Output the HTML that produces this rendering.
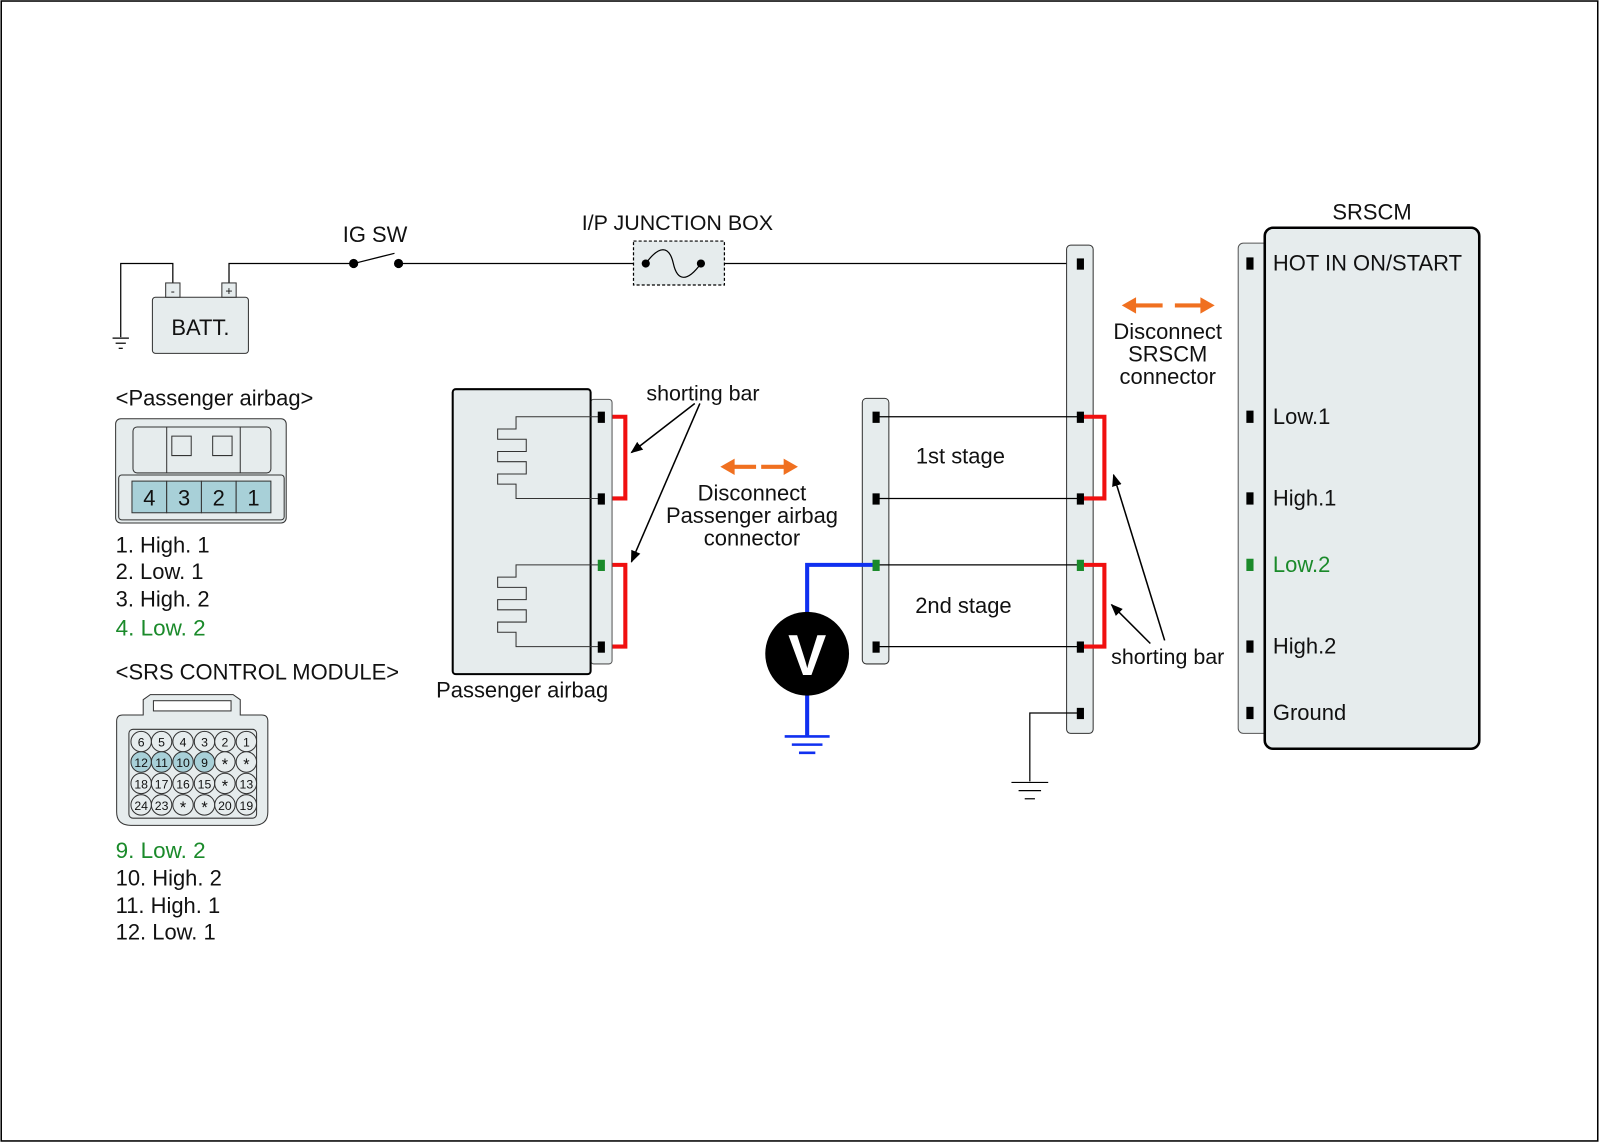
<!DOCTYPE html>
<html><head><meta charset="utf-8"><style>
html,body{margin:0;padding:0;background:#fff}
svg{display:block}
text{font-family:"Liberation Sans",Arial,sans-serif;font-size:21.5px;fill:#111}
</style></head><body>
<svg width="1600" height="1143" viewBox="0 0 1566 1119" xmlns="http://www.w3.org/2000/svg">
<defs>
<marker id="ah" viewBox="0 0 10 10" refX="9" refY="5" markerWidth="8" markerHeight="8" orient="auto"><path d="M0,1 L10,5 L0,9 z" fill="#000"/></marker>
</defs>
<rect x="1" y="1" width="1563" height="1116" fill="#fff" stroke="#000" stroke-width="1.5"/>

<!-- battery -->
<g stroke="#000" stroke-width="1.2" fill="none">
<polyline points="118,330 118,258 169,258 169,277"/>
<line x1="110" y1="331" x2="126" y2="331"/><line x1="113" y1="336" x2="123" y2="336"/><line x1="116" y1="341" x2="120" y2="341"/>
<polyline points="224,277 224,258 240,258 346,258"/>
<line x1="346" y1="258" x2="386" y2="248"/>
<line x1="390" y1="258" x2="620" y2="258"/>
<line x1="709" y1="258" x2="1057" y2="258"/>
</g>
<rect x="149" y="291" width="94" height="55" rx="3" fill="#e6eced" stroke="#333"/>
<rect x="162" y="277" width="14" height="14" fill="#e6eced" stroke="#333"/>
<rect x="217" y="277" width="14" height="14" fill="#e6eced" stroke="#333"/>
<text x="169" y="289" text-anchor="middle" style="font-size:12px">-</text>
<text x="224" y="289" text-anchor="middle" style="font-size:12px">+</text>
<text x="196" y="328" text-anchor="middle">BATT.</text>
<circle cx="346" cy="258" r="4.5" fill="#000"/><circle cx="390" cy="258" r="4.5" fill="#000"/>
<text x="367" y="237" text-anchor="middle">IG SW</text>
<text x="663" y="225" text-anchor="middle" style="font-size:21px">I/P JUNCTION BOX</text>
<rect x="620" y="236" width="89" height="43" fill="#e6eced" stroke="#000" stroke-width="1.2" stroke-dasharray="3,2"/>
<circle cx="632" cy="258" r="4" fill="#000"/><circle cx="686" cy="258" r="4" fill="#000"/>
<path d="M632,258 C645,240 655,240 659,258 C663,276 673,276 686,258" fill="none" stroke="#000" stroke-width="1.2"/>

<!-- middle connector bar -->
<rect x="1044" y="240" width="26" height="478" rx="4" fill="#e6eced" stroke="#333"/>
<rect x="844" y="390" width="26" height="260" rx="4" fill="#e6eced" stroke="#333"/>
<g stroke="#000" stroke-width="1.2">
<line x1="857" y1="408" x2="1057" y2="408"/><line x1="857" y1="488" x2="1057" y2="488"/>
<line x1="857" y1="553" x2="1057" y2="553"/><line x1="857" y1="633" x2="1057" y2="633"/>
<polyline points="1057,698 1008,698 1008,765" fill="none"/>
<line x1="990" y1="766" x2="1026" y2="766"/><line x1="997" y1="774" x2="1019" y2="774"/><line x1="1003" y1="782" x2="1013" y2="782"/>
</g>
<g fill="none" stroke="#f01010" stroke-width="4">
<polyline points="1057,408 1081,408 1081,488 1057,488"/>
<polyline points="1057,553 1081,553 1081,633 1057,633"/>
<polyline points="589,408 612,408 612,488 589,488"/>
<polyline points="589,553 612,553 612,633 589,633"/>
</g>
<g fill="#000">
<rect x="1054" y="253" width="7" height="11"/><rect x="1054" y="403" width="7" height="11"/><rect x="1054" y="483" width="7" height="11"/><rect x="1054" y="628" width="7" height="11"/><rect x="1054" y="693" width="7" height="11"/>
<rect x="854" y="403" width="7" height="11"/><rect x="854" y="483" width="7" height="11"/><rect x="854" y="628" width="7" height="11"/>
</g>
<rect x="1054" y="548" width="7" height="11" fill="#1a8a2a"/>
<!-- voltmeter -->
<g stroke="#1030f0" stroke-width="4" fill="none">
<polyline points="857,553 790,553 790,600"/>
<line x1="790" y1="680" x2="790" y2="720"/>
</g>
<g stroke="#1030f0" stroke-width="2.5">
<line x1="768" y1="721" x2="812" y2="721"/><line x1="775" y1="729" x2="805" y2="729"/><line x1="782" y1="737" x2="798" y2="737"/>
</g>
<rect x="854" y="548" width="7" height="11" fill="#1a8a2a"/>
<circle cx="790" cy="640" r="41" fill="#000"/>
<text x="790" y="661" text-anchor="middle" style="font-size:56px;font-weight:bold;fill:#fff">V</text>
<text x="940" y="454" text-anchor="middle">1st stage</text>
<text x="943" y="600" text-anchor="middle">2nd stage</text>
<text x="1143" y="650" text-anchor="middle" style="font-size:21px">shorting bar</text>
<g stroke="#000" stroke-width="1.5" marker-end="url(#ah)">
<line x1="1140" y1="627" x2="1090" y2="465"/>
<line x1="1126" y1="630" x2="1088" y2="592"/>
<line x1="680" y1="395" x2="618" y2="443"/>
<line x1="685" y1="395" x2="618" y2="550"/>
</g>

<!-- SRSCM -->
<text x="1343" y="215" text-anchor="middle">SRSCM</text>
<rect x="1212" y="238" width="30" height="480" rx="5" fill="#e6eced" stroke="#555"/>
<rect x="1238" y="223" width="210" height="510" rx="8" fill="#e6eced" stroke="#000" stroke-width="2.5"/>
<g fill="#000">
<rect x="1220" y="252" width="7" height="12"/><rect x="1220" y="402" width="7" height="12"/><rect x="1220" y="482" width="7" height="12"/><rect x="1220" y="627" width="7" height="12"/><rect x="1220" y="692" width="7" height="12"/>
</g>
<rect x="1220" y="547" width="7" height="12" fill="#1a8a2a"/>
<text x="1246" y="265">HOT IN ON/START</text>
<text x="1246" y="415">Low.1</text>
<text x="1246" y="495">High.1</text>
<text x="1246" y="560" style="fill:#1a8a2a">Low.2</text>
<text x="1246" y="640">High.2</text>
<text x="1246" y="705">Ground</text>
<g stroke="#f07020" stroke-width="4" fill="#f07020">
<line x1="1108" y1="299" x2="1138" y2="299"/><path d="M1098,299 L1112,291 L1112,307z" stroke="none"/>
<line x1="1150" y1="299" x2="1178" y2="299"/><path d="M1189,299 L1175,291 L1175,307z" stroke="none"/>
<line x1="715" y1="457" x2="740" y2="457"/><path d="M705,457 L719,449 L719,465z" stroke="none"/>
<line x1="745" y1="457" x2="770" y2="457"/><path d="M781,457 L767,449 L767,465z" stroke="none"/>
</g>
<text x="1143" y="332" text-anchor="middle">Disconnect</text>
<text x="1143" y="354" text-anchor="middle">SRSCM</text>
<text x="1143" y="376" text-anchor="middle">connector</text>
<text x="736" y="490" text-anchor="middle">Disconnect</text>
<text x="736" y="512" text-anchor="middle">Passenger airbag</text>
<text x="736" y="534" text-anchor="middle">connector</text>

<!-- passenger airbag -->
<rect x="578" y="391" width="21" height="259" rx="3" fill="#e6eced" stroke="#555"/>
<rect x="443" y="381" width="135" height="279" rx="3" fill="#e6eced" stroke="#000" stroke-width="2"/>
<g fill="none" stroke="#333" stroke-width="1">
<polyline points="589,408 505,408 505,420 487,420 487,430 515,430 515,442 487,442 487,452 515,452 515,464 487,464 487,474 505,474 505,488 589,488"/>
<polyline points="589,553 505,553 505,565 487,565 487,575 515,575 515,587 487,587 487,597 515,597 515,609 487,609 487,619 505,619 505,633 589,633"/>
</g>
<g fill="#000"><rect x="585" y="403" width="7" height="11"/><rect x="585" y="483" width="7" height="11"/><rect x="585" y="628" width="7" height="11"/></g>
<rect x="585" y="548" width="7" height="11" fill="#1a8a2a"/>
<text x="688" y="392" text-anchor="middle" style="font-size:21px">shorting bar</text>
<text x="511" y="683" text-anchor="middle">Passenger airbag</text>

<!-- left legends -->
<text x="113" y="397">&lt;Passenger airbag&gt;</text>
<rect x="113" y="410" width="167" height="102" rx="5" fill="#e6eced" stroke="#333"/>
<g fill="none" stroke="#333" stroke-width="1">
<rect x="130" y="418" width="135" height="45" rx="4"/>
<line x1="163" y1="418" x2="163" y2="463"/><line x1="235" y1="418" x2="235" y2="463"/>
<path d="M168,427 L187,427 L187,446 L168,446 Z"/><path d="M208,427 L227,427 L227,446 L208,446 Z"/>
<rect x="116" y="465" width="162" height="44" rx="3"/>
</g>
<g stroke="#333" stroke-width="1" fill="#a8d0d8">
<rect x="129" y="471" width="34" height="31"/><rect x="163" y="471" width="34" height="31"/><rect x="197" y="471" width="34" height="31"/><rect x="231" y="471" width="34" height="31"/>
</g>
<text x="146" y="495" text-anchor="middle">4</text><text x="180" y="495" text-anchor="middle">3</text><text x="214" y="495" text-anchor="middle">2</text><text x="248" y="495" text-anchor="middle">1</text>
<text x="113" y="541">1. High. 1</text>
<text x="113" y="567">2. Low. 1</text>
<text x="113" y="594">3. High. 2</text>
<text x="113" y="622" style="fill:#1a8a2a;font-size:22px">4. Low. 2</text>
<text x="113" y="665">&lt;SRS CONTROL MODULE&gt;</text>
<path d="M114,706 Q114,700 120,700 L140,700 L140,685 L147,680 L228,680 L235,685 L235,700 L256,700 Q262,700 262,706 L262,795 Q262,808 248,808 L128,808 Q114,808 114,795 Z" fill="#e6eced" stroke="#333"/>
<rect x="150" y="686" width="76" height="10" fill="#fff" stroke="#333"/>
<rect x="126" y="714" width="125" height="87" rx="4" fill="#e6eced" stroke="#333"/>
<g stroke="#333" stroke-width="1">
<g fill="#e6eced">
<circle cx="138" cy="726" r="10"/><circle cx="158" cy="726" r="10"/><circle cx="179" cy="726" r="10"/><circle cx="200" cy="726" r="10"/><circle cx="220" cy="726" r="10"/><circle cx="241" cy="726" r="10"/>
<circle cx="220" cy="746" r="10"/><circle cx="241" cy="746" r="10"/>
<circle cx="138" cy="767" r="10"/><circle cx="158" cy="767" r="10"/><circle cx="179" cy="767" r="10"/><circle cx="200" cy="767" r="10"/><circle cx="220" cy="767" r="10"/><circle cx="241" cy="767" r="10"/>
<circle cx="138" cy="788" r="10"/><circle cx="158" cy="788" r="10"/><circle cx="179" cy="788" r="10"/><circle cx="200" cy="788" r="10"/><circle cx="220" cy="788" r="10"/><circle cx="241" cy="788" r="10"/>
</g>
<g fill="#a8d0d8"><circle cx="138" cy="746" r="10"/><circle cx="158" cy="746" r="10"/><circle cx="179" cy="746" r="10"/><circle cx="200" cy="746" r="10"/></g>
</g>
<g text-anchor="middle">
<text x="138" y="731" style="font-size:12px">6</text><text x="158" y="731" style="font-size:12px">5</text><text x="179" y="731" style="font-size:12px">4</text><text x="200" y="731" style="font-size:12px">3</text><text x="220" y="731" style="font-size:12px">2</text><text x="241" y="731" style="font-size:12px">1</text>
<text x="138" y="751" style="font-size:12px">12</text><text x="158" y="751" style="font-size:12px">11</text><text x="179" y="751" style="font-size:12px">10</text><text x="200" y="751" style="font-size:12px">9</text><text x="220" y="754" style="font-size:16px">*</text><text x="241" y="754" style="font-size:16px">*</text>
<text x="138" y="772" style="font-size:12px">18</text><text x="158" y="772" style="font-size:12px">17</text><text x="179" y="772" style="font-size:12px">16</text><text x="200" y="772" style="font-size:12px">15</text><text x="220" y="775" style="font-size:16px">*</text><text x="241" y="772" style="font-size:12px">13</text>
<text x="138" y="793" style="font-size:12px">24</text><text x="158" y="793" style="font-size:12px">23</text><text x="179" y="796" style="font-size:16px">*</text><text x="200" y="796" style="font-size:16px">*</text><text x="220" y="793" style="font-size:12px">20</text><text x="241" y="793" style="font-size:12px">19</text>
</g>
<text x="113" y="840" style="fill:#1a8a2a;font-size:22px">9. Low. 2</text>
<text x="113" y="867">10. High. 2</text>
<text x="113" y="894">11. High. 1</text>
<text x="113" y="920">12. Low. 1</text>
</svg>
</body></html>
